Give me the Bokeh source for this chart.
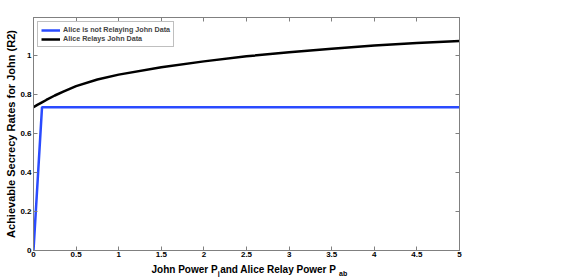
from bokeh.plotting import figure
from bokeh.layouts import column
from bokeh.models import Range1d, LinearAxis, Legend, LegendItem, FixedTicker
from bokeh.core.properties import value
from bokeh.embed import file_html
from bokeh.resources import INLINE

# ---- data ----
x_ticks = [0, 0.5, 1, 1.5, 2, 2.5, 3, 3.5, 4, 4.5, 5]
x_tick_labels = ["0", "0.5", "1", "1.5", "2", "2.5", "3", "3.5", "4", "4.5", "5"]
y_ticks = [0, 0.2, 0.4, 0.6, 0.8, 1]
y_tick_labels = ["0", "0.2", "0.4", "0.6", "0.8", "1"]

no_relay_x = [0, 0.1, 5]
no_relay_y = [0, 0.735, 0.735]

relay_x = [0, 0.05, 0.1, 0.15, 0.25, 0.35, 0.5, 0.75, 1, 1.5, 2, 2.5, 3, 3.5, 4, 4.5, 5]
relay_y = [0.735, 0.748, 0.76, 0.772, 0.795, 0.815, 0.843, 0.877, 0.902, 0.940,
           0.970, 0.996, 1.017, 1.035, 1.051, 1.064, 1.075]

label_no_relay = "Alice is not Relaying John Data"
label_relay = "Alice Relays John Data"
y_title = "Achievable Secrecy Rates for John (R2)"
x_title_parts = ["John Power P", "j", " and Alice Relay Power P", "ab"]

FONT = "Liberation Sans"
GRAY = "#808080"
W = 587
LEFT, RIGHT = 33, 459

p = figure(width=W, height=261, x_range=Range1d(0, 5), y_range=Range1d(0, 1.195),
           x_axis_type=None, y_axis_type=None,
           output_backend="svg", toolbar_location=None,
           min_border_left=LEFT, min_border_right=W - RIGHT, min_border_top=17,
           min_border_bottom=11)
p.outline_line_color = GRAY
p.background_fill_color = "white"
p.border_fill_color = "white"


def make_axis(ticks, labels, show_labels):
    ax = LinearAxis(ticker=FixedTicker(ticks=ticks, minor_ticks=[]),
                    major_label_overrides={t: l for t, l in zip(ticks, labels)},
                    axis_line_color=GRAY, axis_line_width=1,
                    major_tick_line_color=GRAY, major_tick_in=4, major_tick_out=0,
                    minor_tick_in=0, minor_tick_out=0,
                    major_label_text_font=FONT, major_label_text_font_style="bold",
                    major_label_text_font_size="8px", major_label_text_color="black",
                    major_label_standoff=2)
    if not show_labels:
        ax.major_label_text_font_size = "1px"
        ax.major_label_text_alpha = 0
        ax.major_label_standoff = 0
    return ax


xb = make_axis(x_ticks, x_tick_labels, True)
xb.major_label_standoff = 1
p.add_layout(xb, "below")
p.add_layout(make_axis(x_ticks, x_tick_labels, False), "above")
yl = make_axis(y_ticks, y_tick_labels, True)
yl.axis_label = y_title
yl.axis_label_text_font = FONT
yl.axis_label_text_font_style = "bold"
yl.axis_label_text_font_size = "11px"
yl.axis_label_text_color = "black"
yl.axis_label_standoff = 0
p.add_layout(yl, "left")
p.add_layout(make_axis(y_ticks, y_tick_labels, False), "right")

r1 = p.line(no_relay_x, no_relay_y, line_color="#2a4bff", line_width=2.5)
r2 = p.line(relay_x, relay_y, line_color="black", line_width=2.5)

legend = Legend(items=[LegendItem(label=label_no_relay, renderers=[r1]),
                       LegendItem(label=label_relay, renderers=[r2])],
                location="top_left", margin=4, padding=3, spacing=0,
                label_text_font=FONT, label_text_font_style="bold",
                label_text_font_size="7.2px", label_height=8, glyph_height=8,
                glyph_width=19, label_standoff=3,
                border_line_color=GRAY, border_line_width=1,
                background_fill_color="white", background_fill_alpha=1)
p.add_layout(legend)

# x axis title (with subscripts) drawn in a strip below the chart;
# the strip's frame is aligned with the chart's frame, so x is in page pixels
p2 = figure(width=W, height=16, x_range=Range1d(LEFT, RIGHT), y_range=Range1d(16, 0),
            x_axis_type=None, y_axis_type=None, output_backend="svg",
            toolbar_location=None, min_border_left=LEFT, min_border_right=W - RIGHT,
            min_border_top=0, min_border_bottom=0)
p2.outline_line_color = None
p2.background_fill_color = "white"
p2.border_fill_color = "white"

main_size, sub_size = 10, 7
widths = [6.613 * main_size, 0.278 * sub_size + 0.6, 11.894 * main_size, 0]
xs, ys, sizes = [], [], []
xo = 151
for i, part in enumerate(x_title_parts):
    is_sub = i % 2 == 1
    xs.append(xo)
    ys.append(12 if is_sub else 8)
    sizes.append(f"{sub_size if is_sub else main_size}px")
    xo += widths[i]
p2.text(x=xs, y=ys, text=x_title_parts, text_font=value(FONT), text_font_style="bold",
        text_font_size=sizes, text_align="left", text_baseline="alphabetic",
        text_color="black")

layout = column(p, p2, spacing=0)
open("out.html", "w").write(file_html(layout, INLINE))
